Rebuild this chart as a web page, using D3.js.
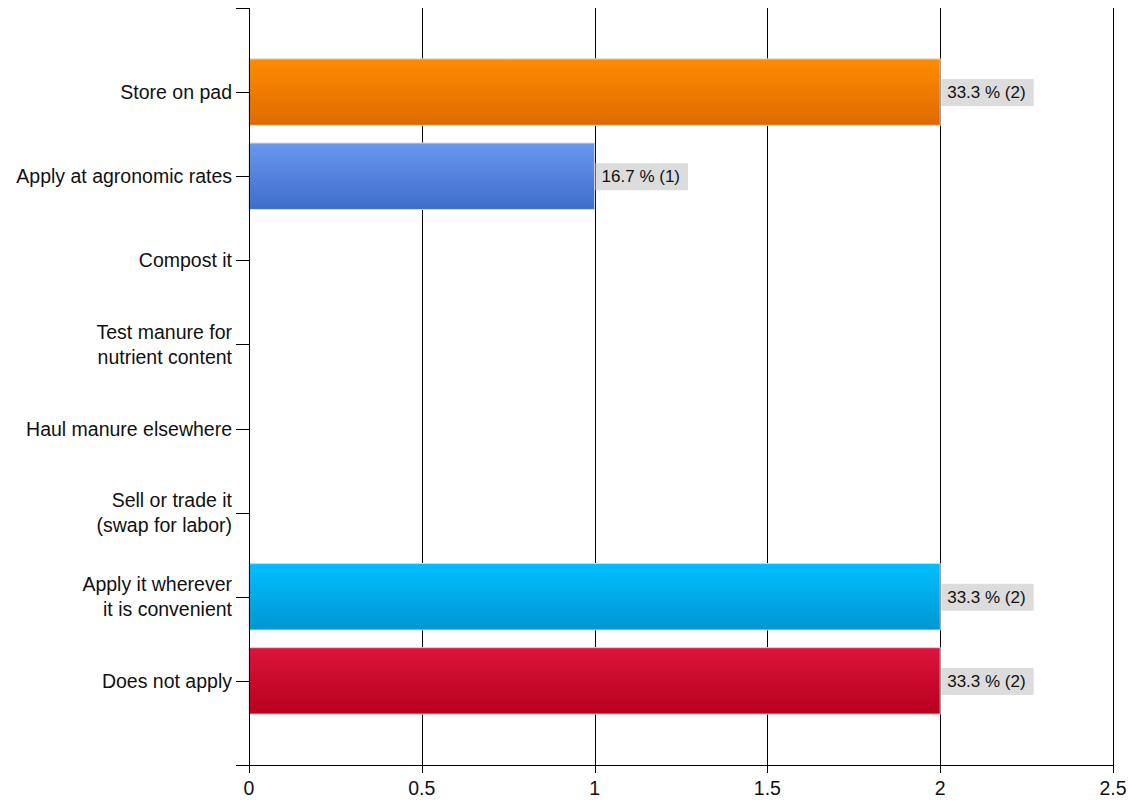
<!DOCTYPE html>
<html><head><meta charset="utf-8">
<script src="https://cdn.jsdelivr.net/npm/d3@7"></script>
<style>body{margin:0;background:#fff}svg{display:block}text{font-family:"Liberation Sans",Arial,sans-serif}</style>
</head><body><svg id="c" width="1137" height="802"></svg>
<script>
const categories = [
  ["Store on pad"],
  ["Apply at agronomic rates"],
  ["Compost it"],
  ["Test manure for", "nutrient content"],
  ["Haul manure elsewhere"],
  ["Sell or trade it", "(swap for labor)"],
  ["Apply it wherever", "it is convenient"],
  ["Does not apply"]
];
const counts = [2, 1, 0, 0, 0, 0, 2, 2];
const percents = ["33.3", "16.7", "0", "0", "0", "0", "33.3", "33.3"];
const xTicks = [0, 0.5, 1, 1.5, 2, 2.5];
const colors = [
  ["#ff8c00", "#dd6a00"],
  ["#6a98ee", "#3d6ccb"],
  ["#00bfff", "#0096d2"],
  ["#dc143c", "#b8001d"]
];
const barColors = [colors[0], colors[1], null, null, null, null, colors[2], colors[3]];

(function(){
const svg = d3.select("#c");
const mLeft = 249, mRight = 1113, mTop = 8, mBottom = 765;
const x = d3.scaleLinear().domain([0, 2.5]).range([mLeft, mRight]);
const y = d3.scalePoint().domain(d3.range(categories.length)).range([mTop, mBottom]).padding(1);
const bh = y.step() * 0.79;
const fs = 19.5;

const defs = svg.append("defs");
barColors.forEach((c, i) => {
  if (!c) return;
  const g = defs.append("linearGradient").attr("id", "g" + i).attr("x1", 0).attr("y1", 0).attr("x2", 0).attr("y2", 1);
  g.append("stop").attr("offset", "0%").attr("stop-color", c[0]);
  g.append("stop").attr("offset", "100%").attr("stop-color", c[1]);
});

svg.append("g").selectAll("line").data(xTicks.slice(1)).join("line")
  .attr("x1", d => Math.round(x(d)) + 0.5).attr("x2", d => Math.round(x(d)) + 0.5)
  .attr("y1", mTop).attr("y2", mBottom).attr("stroke", "#000").attr("stroke-width", 1);

const bars = svg.append("g");
counts.forEach((v, i) => {
  if (v <= 0) return;
  const yy = y(i) - bh / 2;
  bars.append("rect").attr("x", x(0)).attr("y", yy).attr("width", x(v) - x(0)).attr("height", bh)
    .attr("fill", `url(#g${i})`).attr("stroke", "#d8d8d8").attr("stroke-width", 1);
  const label = `${percents[i]} % (${v})`;
  const lx = x(v) + 1;
  const t = bars.append("text").attr("x", lx + 6).attr("y", y(i) + 6).attr("font-size", 17).attr("fill", "#111").text(label);
  const w = t.node().getComputedTextLength();
  bars.insert("rect", () => t.node()).attr("x", lx).attr("y", y(i) - 13).attr("width", w + 14).attr("height", 27).attr("fill", "#dcdcdc");
});

const xa = svg.append("g").attr("transform", `translate(0,${mBottom})`);
xa.append("line").attr("x1", 236).attr("x2", mRight).attr("y1", 0.5).attr("y2", 0.5).attr("stroke", "#000");
xTicks.forEach(d => {
  const xx = Math.round(x(d)) + 0.5;
  xa.append("line").attr("x1", xx).attr("x2", xx).attr("y1", 0).attr("y2", 8).attr("stroke", "#000");
  xa.append("text").attr("x", x(d)).attr("y", 30).attr("text-anchor", "middle").attr("font-size", fs).attr("fill", "#111").text(d);
});

const ya = svg.append("g");
ya.append("line").attr("x1", mLeft + 0.5).attr("x2", mLeft + 0.5).attr("y1", mTop).attr("y2", mBottom + 8).attr("stroke", "#000");
ya.append("line").attr("x1", 236).attr("x2", mLeft).attr("y1", mTop + 0.5).attr("y2", mTop + 0.5).attr("stroke", "#000");
categories.forEach((lines, i) => {
  const yy = Math.round(y(i)) + 0.5;
  ya.append("line").attr("x1", 236).attr("x2", mLeft).attr("y1", yy).attr("y2", yy).attr("stroke", "#000");
  const t = ya.append("text").attr("text-anchor", "end").attr("font-size", fs).attr("fill", "#111");
  const n = lines.length;
  lines.forEach((s, k) => {
    t.append("tspan").attr("x", 232).attr("y", y(i) + 7 + (k - (n - 1) / 2) * 25).text(s);
  });
});
})();
</script></body></html>
